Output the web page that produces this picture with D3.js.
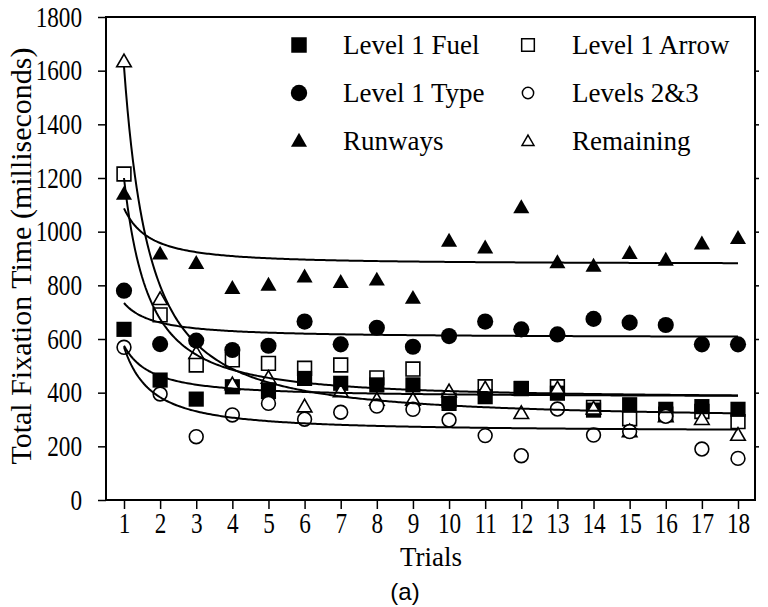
<!DOCTYPE html>
<html>
<head>
<meta charset="utf-8">
<script src="https://cdn.jsdelivr.net/npm/d3@7"></script>
<style>
    html, body { margin: 0; padding: 0; background: #fff; }
    svg { display: block; }
    text { font-family: "Liberation Serif", "Times New Roman", serif; fill: #000; }
</style>
</head>
<body>
<svg id="chart" width="768" height="607"></svg>
<script>
// ---- data ----
var trials    = [1, 2, 3, 4, 5, 6, 7, 8, 9, 10, 11, 12, 13, 14, 15, 16, 17, 18];
var fuel      = [636, 447, 376, 422, 404, 453, 435, 429, 429, 360, 385, 416, 398, 335, 355, 338, 348, 338];
var arrow     = [1215, 690, 503, 522, 509, 491, 503, 455, 488, 372, 422, 415, 422, 345, 303, 320, 330, 292];
var type      = [780, 581, 594, 559, 575, 665, 580, 642, 571, 611, 665, 636, 617, 675, 661, 652, 580, 580];
var levels23  = [569, 395, 236, 317, 360, 301, 327, 350, 338, 298, 240, 165, 339, 242, 255, 312, 190, 155];
var runways   = [1140, 917, 882, 789, 801, 832, 811, 820, 752, 965, 940, 1090, 885, 872, 919, 894, 955, 975];
var remaining = [1634, 748, 547, 430, 455, 348, 404, 373, 373, 404, 415, 323, 415, 340, 255, 311, 301, 242];

var yTicks = [0, 200, 400, 600, 800, 1000, 1200, 1400, 1600, 1800];

// fitted practice curves  y = a + b * x^-c  (fuel, arrow, type, levels23, runways, remaining)
var fitA = [384, 378, 605, 255, 879, 300];
var fitB = [191, 822, 129, 315, 208, 1315];
var fitC = [1.3, 1.47, 1.2, 1.3, 1.4, 1.4];

var series = [
    { name: 'Level 1 Fuel',  values: fuel,      shape: 'square',   filled: true  },
    { name: 'Level 1 Arrow', values: arrow,     shape: 'square',   filled: false },
    { name: 'Level 1 Type',  values: type,      shape: 'circle',   filled: true  },
    { name: 'Levels 2&3',    values: levels23,  shape: 'circle',   filled: false },
    { name: 'Runways',       values: runways,   shape: 'triangle', filled: true  },
    { name: 'Remaining',     values: remaining, shape: 'triangle', filled: false }
];

var L = 106, R = 755, T = 17, B = 500;

var svg = d3.select('#chart');
svg.append('rect').attr('width', 768).attr('height', 607).attr('fill', '#fff');

var x = d3.scaleLinear().domain([1, 18]).range([124, 738]);
var y = d3.scaleLinear().domain([0, 1800]).range([B, T]);

// frame
svg.append('rect')
    .attr('x', L).attr('y', T)
    .attr('width', R - L).attr('height', B - T)
    .attr('fill', 'none').attr('stroke', '#000').attr('stroke-width', 2);

// axes
var yAxis = svg.append('g')
    .attr('transform', 'translate(' + L + ',0)')
    .call(d3.axisLeft(y).tickValues(yTicks).tickSize(8).tickFormat(d3.format('d')));

var yAxisR = svg.append('g')
    .attr('transform', 'translate(' + R + ',0)')
    .call(d3.axisRight(y).tickValues(yTicks.slice(1, -1)).tickSize(4).tickFormat(''));

var xAxis = svg.append('g')
    .attr('transform', 'translate(0,' + B + ')')
    .call(d3.axisBottom(x).tickValues(trials).tickSize(9).tickPadding(3).tickFormat(d3.format('d')));

[yAxis, yAxisR, xAxis].forEach(function (g) {
    g.select('.domain').remove();
    g.selectAll('.tick line').attr('stroke', '#000').attr('stroke-width', 1.5);
});

// tick numbers in the figure are narrow serif digits
yAxis.selectAll('.tick text')
    .attr('x', -30)
    .attr('font-size', 29)
    .attr('font-family', '"Liberation Serif", serif')
    .attr('transform', 'scale(0.8,1)');

xAxis.selectAll('.tick text')
    .attr('font-size', 29)
    .attr('font-family', '"Liberation Serif", serif')
    .attr('transform', 'scale(0.8,1)');

// axis titles
svg.append('text')
    .attr('transform', 'translate(31,256) rotate(-90)')
    .attr('text-anchor', 'middle')
    .attr('font-size', 30)
    .text('Total Fixation Time (milliseconds)');

svg.append('text')
    .attr('x', 431).attr('y', 566)
    .attr('text-anchor', 'middle')
    .attr('font-size', 27)
    .text('Trials');

svg.append('text')
    .attr('x', 405).attr('y', 600)
    .attr('text-anchor', 'middle')
    .attr('font-size', 24)
    .style('font-family', '"Liberation Sans", Arial, sans-serif')
    .text('(a)');

// markers
function symbolFor(shape, big) {
    if (shape === 'square')   return d3.symbol().type(d3.symbolSquare).size(big ? 230 : 190);
    if (shape === 'circle')   return d3.symbol().type(d3.symbolCircle).size(big ? 205 : 150);
    return d3.symbol().type(d3.symbolTriangle).size(big ? 112 : 92);
}

function drawMarkers(s) {
    var sym = symbolFor(s.shape, s.filled);
    svg.append('g').selectAll('path')
        .data(s.values)
        .join('path')
        .attr('d', sym)
        .attr('transform', function (d, i) {
            var dy = s.shape === 'triangle' ? 1 : 0;
            return 'translate(' + x(trials[i]) + ',' + (y(d) + dy) + ')';
        })
        .attr('fill', s.filled ? '#000' : '#fff')
        .attr('stroke', '#000')
        .attr('stroke-width', s.filled ? 0 : 1.6);
}

// draw order: open squares, filled squares, open triangles, open circles, filled circles, filled triangles
[1, 0, 5, 3, 2, 4].forEach(function (i) { drawMarkers(series[i]); });

// fit curves
var xs = d3.range(1, 18.001, 0.05);
var line = d3.line()
    .x(function (d) { return x(d[0]); })
    .y(function (d) { return y(d[1]); });

series.forEach(function (s, i) {
    var pts = xs.map(function (t) { return [t, fitA[i] + fitB[i] * Math.pow(t, -fitC[i])]; });
    svg.append('path')
        .datum(pts)
        .attr('d', line)
        .attr('fill', 'none')
        .attr('stroke', '#000')
        .attr('stroke-width', 2);
});

// legend
var legCols = [299, 528];
var legText = [343, 572];
var legRows = [45, 93, 141];

series.forEach(function (s, i) {
    var col = i % 2, row = Math.floor(i / 2);
    var sym;
    if (s.shape === 'square')      sym = d3.symbol().type(d3.symbolSquare).size(s.filled ? 240 : 160);
    else if (s.shape === 'circle') sym = d3.symbol().type(d3.symbolCircle).size(s.filled ? 210 : 100);
    else                           sym = d3.symbol().type(d3.symbolTriangle).size(s.filled ? 112 : 62);

    svg.append('path')
        .attr('d', sym)
        .attr('transform', 'translate(' + legCols[col] + ',' + (legRows[row] + (s.shape === 'triangle' ? 1 : 0)) + ')')
        .attr('fill', s.filled ? '#000' : '#fff')
        .attr('stroke', '#000')
        .attr('stroke-width', s.filled ? 0 : 1.5);

    svg.append('text')
        .attr('x', legText[col])
        .attr('y', legRows[row] + 9)
        .attr('font-size', 27)
        .text(s.name);
});
</script>
</body>
</html>
